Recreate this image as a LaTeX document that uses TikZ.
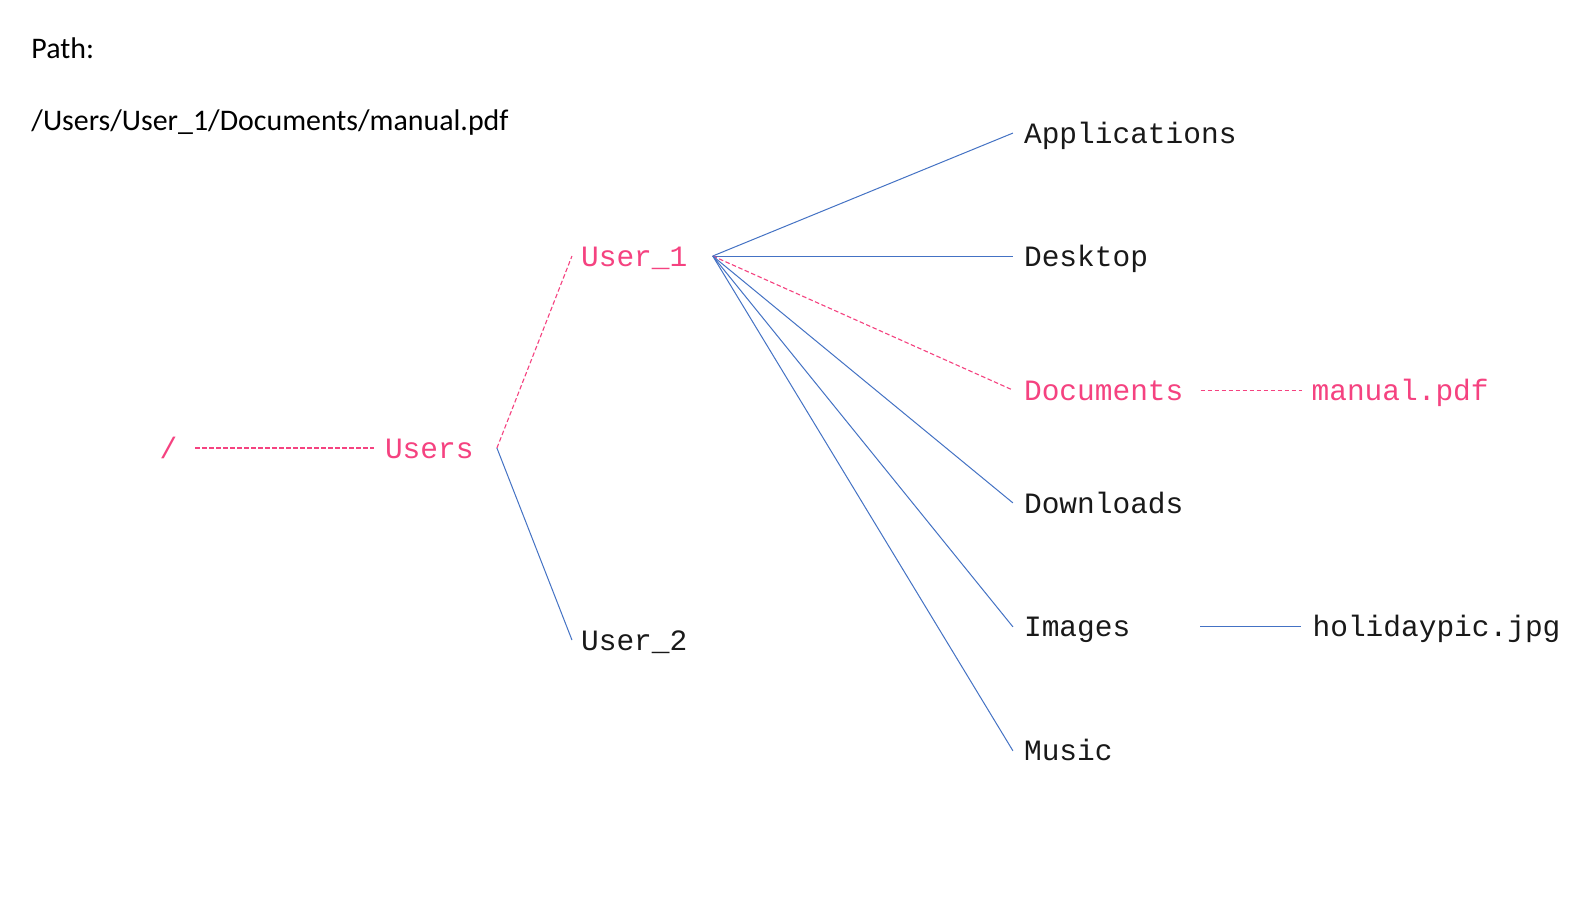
\documentclass[tikz,border=0pt]{standalone}
\usepackage{fontspec}
\setmainfont{Carlito}
\newfontfamily\cour{Liberation Mono}
\definecolor{pinkc}{RGB}{245,66,128}
\definecolor{bluec}{RGB}{68,114,196}
\begin{document}
\begin{tikzpicture}[x=1.01594pt,y=1.01594pt,
  every node/.style={inner sep=0pt,outer sep=0pt,anchor=base west},
  lbl/.style={font=\cour\fontsize{29.5}{34}\selectfont,text=black!90},
  hot/.style={font=\cour\fontsize{29.5}{34}\selectfont,text=pinkc},
  plain/.style={font=\fontsize{29.9}{34}\selectfont,text=black},
  bline/.style={draw=bluec,line width=1pt},
  pline/.style={draw=pinkc,line width=1.1pt,dash pattern=on 4.5pt off 2.5pt}]
\useasboundingbox[fill=white] (0,0) rectangle (1568,882);
\node[plain] (ptitle) at (31,824) {Path:};
\node[plain] (pstr) at (31,754) {/Users/User\_1/Documents/manual.pdf};
\node[hot] (root) at (157,431) {/};
\node[hot] (users) at (379,431) {Users};
\node[hot] (user1) at (572,620) {User\_1};
\node[lbl] (user2) at (572,242) {User\_2};
\node[lbl] (apps) at (1008,741) {Applications};
\node[lbl] (desk) at (1008,620) {Desktop};
\node[hot] (docs) at (1008,488) {Documents};
\node[lbl] (down) at (1008,377) {Downloads};
\node[lbl] (imgs) at (1008,255) {Images};
\node[lbl] (music) at (1008,133) {Music};
\node[hot] (manual) at (1291,488) {manual.pdf};
\node[lbl] (holiday) at (1292,255) {holidaypic.jpg};
\coordinate (fork) at ([shift={(23,10)}]users.base east);
\coordinate (hub) at ([shift={(25,10)}]user1.base east);
\draw[pline] ([shift={(18,10)}]root.base east) -- ([shift={(-11,10)}]users.base west);
\draw[pline] (fork) -- ([shift={(-9,10)}]user1.base west);
\draw[bline] (fork) -- ([shift={(-9,10)}]user2.base west);
\draw[bline] (hub) -- ([shift={(-11,10)}]apps.base west);
\draw[bline] (hub) -- ([shift={(-11,10)}]desk.base west);
\draw[pline] (hub) -- ([shift={(-11,10)}]docs.base west);
\draw[bline] (hub) -- ([shift={(-11,10)}]down.base west);
\draw[bline] (hub) -- ([shift={(-11,10)}]imgs.base west);
\draw[bline] (hub) -- ([shift={(-11,10)}]music.base west);
\draw[pline] ([shift={(17,10)}]docs.base east) -- ([shift={(-9,10)}]manual.base west);
\draw[bline] ([shift={(69,10)}]imgs.base east) -- ([shift={(-11,10)}]holiday.base west);
\end{tikzpicture}
\end{document}
